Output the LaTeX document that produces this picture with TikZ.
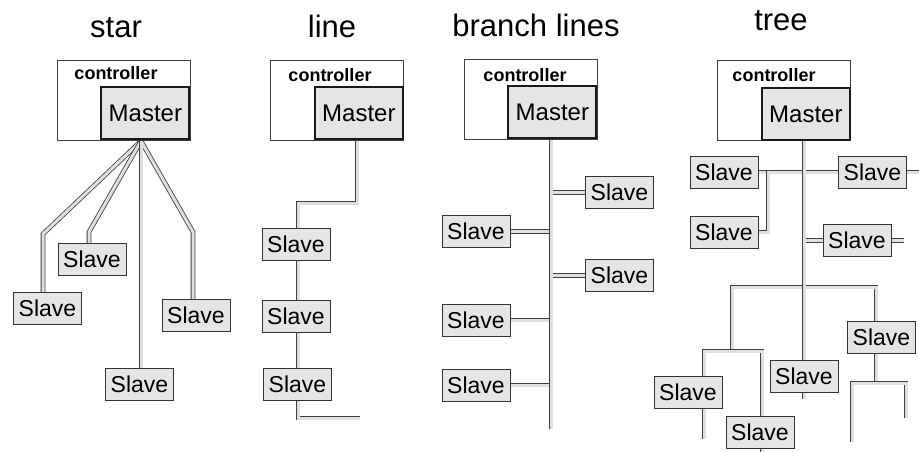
\documentclass[tikz,border=0pt]{standalone}
\usepackage{fontspec}
\setmainfont{Liberation Sans}
\usetikzlibrary{backgrounds}

\tikzset{
  ctrlbox/.style={draw=black!75, line width=0.8pt, minimum width=133pt, minimum height=80pt, inner sep=0pt},
  ctrltext/.style={font=\fontsize{18}{18}\selectfont\bfseries, inner sep=0pt},
  masterbox/.style={draw=black!90, line width=2pt, fill=gray!20, minimum width=88pt, minimum height=52pt, inner sep=0pt, anchor=south east, font=\fontsize{24}{24}\selectfont},
  slavebox/.style={draw=black!80, line width=0.9pt, fill=gray!20, minimum width=68pt, minimum height=32pt, inner sep=0pt, font=\fontsize{23}{23}\selectfont},
  title/.style={font=\fontsize{31}{31}\selectfont, anchor=base, inner sep=0pt},
  cable/.style={draw=black!75, line width=0.8pt, double=gray!25, double distance=3pt, line cap=rect}
}

\begin{document}
\begin{tikzpicture}[x=1pt,y=-1pt]
\useasboundingbox (0,0) rectangle (919,451);

% titles
\node[title] (tstar) at (116,37) {star};
\node[title] (tline) at (332,37) {line};
\node[title] (tbranch) at (536,36) {branch lines};
\node[title] (ttree) at (781,30) {tree};

% star
\node[ctrlbox] (c1) at (123.5,100) {};
\node[ctrltext] (l1) at (116,73) {controller};
\node[masterbox] (m1) at (c1.south east) {Master};
\coordinate (h1) at (141,141);
\coordinate (k1) at (43,234);
\coordinate (k2) at (89,232);
\coordinate (k3) at (193,232);
\node[slavebox] (s1) at (47.5,308) {Slave};
\node[slavebox] (s2) at (92,259.5) {Slave};
\node[slavebox] (s3) at (139.5,384) {Slave};
\node[slavebox] (s4) at (196,315.5) {Slave};
\begin{scope}[on background layer]
\draw[cable] (h1) -- (k1) -- (k1 |- s1.north);
\draw[cable] (h1) -- (k2) -- (k2 |- s2.north);
\draw[cable] (h1) -- (k3) -- (k3 |- s4.north);
\draw[cable] (h1) -- (h1 |- s3.north);
\end{scope}

% line
\node[ctrlbox] (c2) at (337,100) {};
\node[ctrltext] (l2) at (330,75) {controller};
\node[masterbox] (m2) at (c2.south east) {Master};
\coordinate (p1) at (357,203);
\coordinate (p2) at (298,203);
\coordinate (p3) at (298,418);
\coordinate (p4) at (358,418);
\node[slavebox] (s5) at (296,244) {Slave};
\node[slavebox] (s6) at (296,316) {Slave};
\node[slavebox] (s7) at (297.5,384) {Slave};
\begin{scope}[on background layer]
\draw[cable] (p1 |- m2.south) -- (p1) -- (p2) -- (p3) -- (p4);
\end{scope}

% branch lines
\node[ctrlbox] (c3) at (530.5,99) {};
\node[ctrltext] (l3) at (525,75) {controller};
\node[masterbox] (m3) at (c3.south east) {Master};
\coordinate (b0) at (551,427);
\node[slavebox] (r1) at (619.5,192.5) {Slave};
\node[slavebox] (r2) at (619.5,275.5) {Slave};
\node[slavebox] (r3) at (476,231.5) {Slave};
\node[slavebox] (r4) at (476,320) {Slave};
\node[slavebox] (r5) at (476,385) {Slave};
\begin{scope}[on background layer]
\foreach \s in {r1,r2}
  \draw[cable] (b0 |- \s.west) -- (\s.west);
\foreach \s in {r3,r4,r5}
  \draw[cable] (b0 |- \s.east) -- (\s.east);
\draw[cable] (b0 |- m3.south) -- (b0);
\end{scope}

% tree
\node[ctrlbox] (c4) at (784,100.5) {};
\node[ctrltext] (l4) at (774,75) {controller};
\node[masterbox] (m4) at (c4.south east) {Master};
\coordinate (q0) at (804,397);
\node[slavebox] (t1) at (724,172) {Slave};
\node[slavebox] (t2) at (872.5,172) {Slave};
\node[slavebox] (t3) at (724,232) {Slave};
\node[slavebox] (t4) at (857,240.5) {Slave};
\node[slavebox] (t5) at (688,392.5) {Slave};
\node[slavebox] (t6) at (760,432.5) {Slave};
\node[slavebox] (t7) at (804,376.5) {Slave};
\node[slavebox] (t8) at (881.5,337) {Slave};
\coordinate (e1) at (917,172);
\coordinate (e2) at (902,240.5);
\coordinate (q1) at (768,232);
\coordinate (q2) at (732,351);
\coordinate (q3) at (732,287);
\coordinate (q4) at (876,287);
\coordinate (q5) at (876,383);
\coordinate (q6) at (852,440);
\coordinate (q7) at (852,383);
\coordinate (q8) at (906,383);
\coordinate (q9) at (906,416);
\coordinate (q10) at (704,437);
\coordinate (q11) at (704,351);
\coordinate (q12) at (762,351);
\coordinate (q13) at (762,451);
\begin{scope}[on background layer]
\draw[cable] (t1.east) -- (t2.west);
\draw[cable] (t2.east) -- (e1);
\draw[cable] (q1 |- t1.east) -- (q1) -- (t3.east);
\draw[cable] (q0 |- t4.west) -- (t4.west);
\draw[cable] (t4.east) -- (e2);
\draw[cable] (q2) -- (q3) -- (q4) -- (q5);
\draw[cable] (q6) -- (q7) -- (q8) -- (q9);
\draw[cable] (q10) -- (q11) -- (q12) -- (q13);
\draw[cable] (q0 |- m4.south) -- (q0);
\end{scope}
\end{tikzpicture}
\end{document}
